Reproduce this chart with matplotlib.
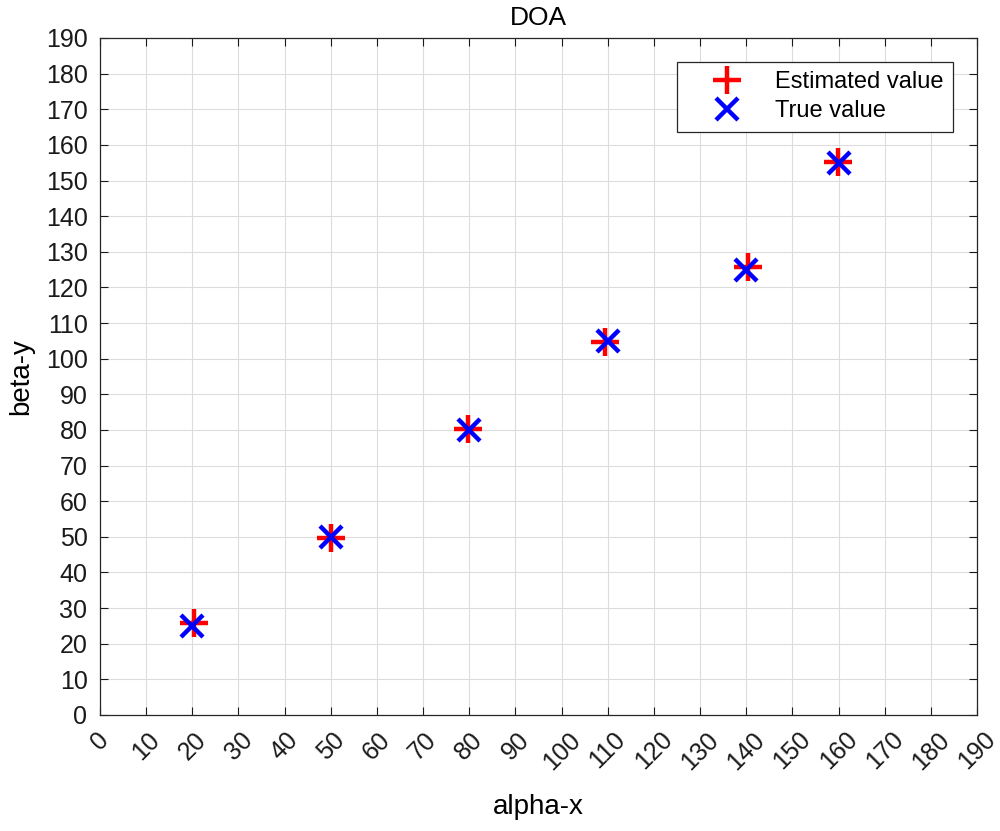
import matplotlib
matplotlib.use("Agg")
import matplotlib.pyplot as plt
import numpy as np

plt.rcParams['font.family'] = ['Liberation Sans', 'DejaVu Sans']

# estimated positions (red +)
est_x = [20.3, 50.0, 79.8, 109.3, 140.4, 159.8]
est_y = [25.8, 49.8, 80.2, 104.6, 125.6, 155.2]
# true positions (blue x)
true_x = [20, 50, 80, 110, 140, 160]
true_y = [25, 50, 80, 105, 125, 155]

ticks = np.arange(0, 191, 10)

fig = plt.figure(figsize=(10, 8.31), dpi=100)
ax = fig.add_axes([0.100, 0.1396, 0.877, 0.8147])

ax.plot(est_x, est_y, '+', color='#ff0000', markersize=20, markeredgewidth=3.2,
        label='Estimated value', zorder=3)
ax.plot(true_x, true_y, 'x', color='#0000ff', markersize=16, markeredgewidth=3.2,
        label='True value', zorder=4)

ax.set_xlim(0, 190)
ax.set_ylim(0, 190)
ax.set_xticks(ticks)
ax.set_yticks(ticks)
ax.set_xticklabels([str(t) for t in ticks], rotation=45, ha='center', va='top')
ax.tick_params(direction='in', labelsize=18, length=6, width=0.8, top=True, right=True,
               colors='#1a1a1a')
ax.tick_params(axis='x', pad=9)
ax.tick_params(axis='y', pad=9)
ax.grid(True, color='#dcdcdc', linewidth=0.8)
for s in ax.spines.values():
    s.set_color('#262626')
    s.set_linewidth(0.9)

ax.set_title('DOA', fontsize=19, pad=9)
ax.set_xlabel('alpha-x', fontsize=20, labelpad=14)
ax.set_ylabel('beta-y', fontsize=20, labelpad=8)

leg = ax.legend(loc='upper right', fontsize=17, frameon=True, fancybox=False,
                edgecolor='#262626', framealpha=1, borderaxespad=1.0,
                handletextpad=0.35, borderpad=0.4, labelspacing=0.3,
                handlelength=3.4)
leg.get_frame().set_linewidth(0.9)

fig.savefig('out.png', dpi=100)
